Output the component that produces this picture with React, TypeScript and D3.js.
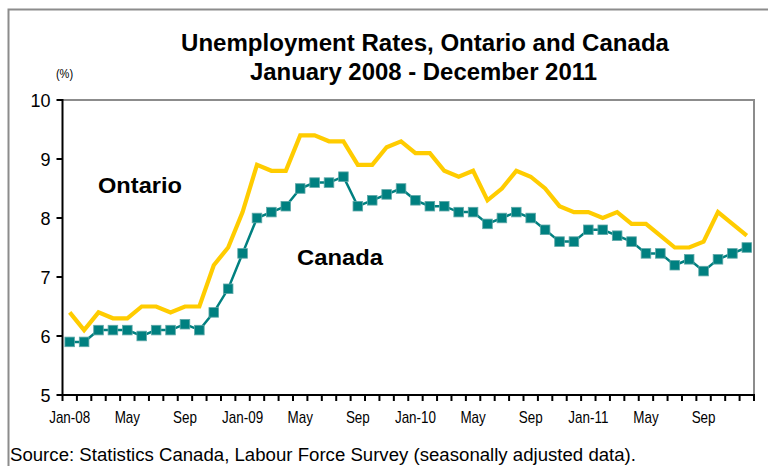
import React from "react";
import * as d3 from "d3";

const months = [
  "Jan-08","Feb-08","Mar-08","Apr-08","May-08","Jun-08","Jul-08","Aug-08","Sep-08","Oct-08","Nov-08","Dec-08",
  "Jan-09","Feb-09","Mar-09","Apr-09","May-09","Jun-09","Jul-09","Aug-09","Sep-09","Oct-09","Nov-09","Dec-09",
  "Jan-10","Feb-10","Mar-10","Apr-10","May-10","Jun-10","Jul-10","Aug-10","Sep-10","Oct-10","Nov-10","Dec-10",
  "Jan-11","Feb-11","Mar-11","Apr-11","May-11","Jun-11","Jul-11","Aug-11","Sep-11","Oct-11","Nov-11","Dec-11",
];

const ontario = [
  6.4, 6.1, 6.4, 6.3, 6.3, 6.5, 6.5, 6.4, 6.5, 6.5, 7.2, 7.5,
  8.1, 8.9, 8.8, 8.8, 9.4, 9.4, 9.3, 9.3, 8.9, 8.9, 9.2, 9.3,
  9.1, 9.1, 8.8, 8.7, 8.8, 8.3, 8.5, 8.8, 8.7, 8.5, 8.2, 8.1,
  8.1, 8.0, 8.1, 7.9, 7.9, 7.7, 7.5, 7.5, 7.6, 8.1, 7.9, 7.7,
];

const canada = [
  5.9, 5.9, 6.1, 6.1, 6.1, 6.0, 6.1, 6.1, 6.2, 6.1, 6.4, 6.8,
  7.4, 8.0, 8.1, 8.2, 8.5, 8.6, 8.6, 8.7, 8.2, 8.3, 8.4, 8.5,
  8.3, 8.2, 8.2, 8.1, 8.1, 7.9, 8.0, 8.1, 8.0, 7.8, 7.6, 7.6,
  7.8, 7.8, 7.7, 7.6, 7.4, 7.4, 7.2, 7.3, 7.1, 7.3, 7.4, 7.5,
];

const xTickLabels: Record<string, string> = {
  "Jan-08": "Jan-08", "May-08": "May", "Sep-08": "Sep",
  "Jan-09": "Jan-09", "May-09": "May", "Sep-09": "Sep",
  "Jan-10": "Jan-10", "May-10": "May", "Sep-10": "Sep",
  "Jan-11": "Jan-11", "May-11": "May", "Sep-11": "Sep",
};

const yTicks = [5, 6, 7, 8, 9, 10];

export default function App() {
  const W = 768, H = 466;
  const left = 62.5, right = 754, top = 100, bottom = 395;
  const x = d3.scaleBand<string>().domain(months).range([left, right]).padding(0);
  const y = d3.scaleLinear().domain([5, 10]).range([bottom, top]);
  const cx = (m: string) => (x(m) as number) + x.bandwidth() / 2;

  const line = d3.line<number>().x((_, i) => cx(months[i])).y((v) => y(v));

  const font = "Arial, 'Liberation Sans', Helvetica, sans-serif";

  const boundaries = months.map((m) => x(m) as number).concat([right]);

  return (
    <svg width={W} height={H} style={{ position: "absolute", left: 0, top: 0 }}>
      <rect x={0} y={0} width={W} height={H} fill="#fff" />
      {/* outer frame */}
      <path d={`M8.5,${H} L8.5,9.5 L${W},9.5`} fill="none" stroke="#8c8c8c" strokeWidth={2} />
      {/* title */}
      <text x={181} y={51} fontFamily={font} fontWeight="bold" fontSize={23.5} fill="#000"
        textLength={488} lengthAdjust="spacingAndGlyphs">
        Unemployment Rates, Ontario and Canada
      </text>
      <text x={250} y={80} fontFamily={font} fontWeight="bold" fontSize={23.5} fill="#000"
        textLength={347} lengthAdjust="spacingAndGlyphs">
        January 2008 - December 2011
      </text>
      <text transform="translate(64.5,78) scale(0.85,1)" textAnchor="middle" fontFamily={font} fontSize={13} fill="#000">(%)</text>

      {/* plot frame top & right */}
      <path d={`M${left},${top} L${right},${top} L${right},${bottom}`} fill="none" stroke="#8c8c8c" strokeWidth={2} />

      {/* y axis */}
      <line x1={left} y1={top - 1} x2={left} y2={bottom} stroke="#000" strokeWidth={2} />
      {yTicks.map((t) => (
        <g key={t}>
          <line x1={left - 6} x2={left} y1={y(t)} y2={y(t)} stroke="#000" strokeWidth={2} />
          <text x={left - 12} y={y(t) + 6.5} textAnchor="end" fontFamily={font} fontSize={18} fill="#000">{t}</text>
        </g>
      ))}

      {/* x axis */}
      <line x1={left - 1} x2={right + 1} y1={bottom} y2={bottom} stroke="#000" strokeWidth={2} />
      {boundaries.map((b, i) => (
        <line key={i} x1={b} x2={b} y1={bottom} y2={bottom + 6} stroke="#000" strokeWidth={2} />
      ))}
      {months.map((m) =>
        xTickLabels[m] ? (
          <text key={m} transform={`translate(${cx(m)},422.5) scale(0.84,1)`} textAnchor="middle" fontFamily={font} fontSize={16} fill="#000">
            {xTickLabels[m]}
          </text>
        ) : null
      )}

      {/* Ontario line */}
      <path d={line(ontario) || ""} fill="none" stroke="#FFCC00" strokeWidth={4.2} strokeLinejoin="miter" />

      {/* Canada line */}
      <path d={line(canada) || ""} fill="none" stroke="#008080" strokeWidth={2.5} />
      {canada.map((v, i) => (
        <rect key={i} x={cx(months[i]) - 4.8} y={y(v) - 4.8} width={9.6} height={9.6} fill="#008080" stroke="#5fa8a8" strokeWidth={0.8} />
      ))}

      {/* series labels */}
      <text x={98} y={193} fontFamily={font} fontWeight="bold" fontSize={22} fill="#000"
        textLength={84} lengthAdjust="spacingAndGlyphs">Ontario</text>
      <text x={297} y={265} fontFamily={font} fontWeight="bold" fontSize={22} fill="#000"
        textLength={86} lengthAdjust="spacingAndGlyphs">Canada</text>

      {/* source */}
      <text x={10} y={461} fontFamily={font} fontSize={17.5} fill="#000"
        textLength={626} lengthAdjust="spacingAndGlyphs">
        Source: Statistics Canada, Labour Force Survey (seasonally adjusted data).
      </text>
    </svg>
  );
}
